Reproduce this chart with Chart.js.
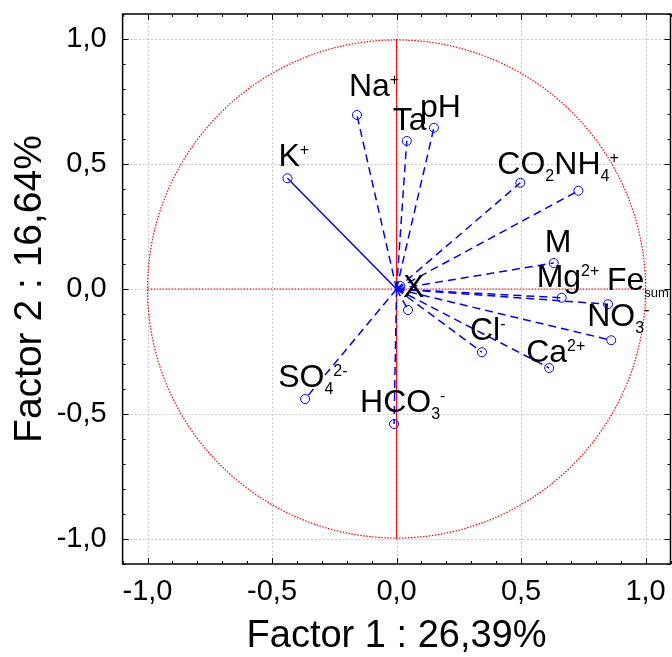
<!DOCTYPE html>
<html>
<head>
<meta charset="utf-8">
<title>Factor loadings</title>
<script src="https://cdn.jsdelivr.net/npm/chart.js"></script>
<style>
  html, body { margin: 0; padding: 0; overflow: hidden; background: #fff; }
  #chart { display: block; }
</style>
</head>
<body>
<canvas id="chart" width="676" height="657"></canvas>
<script>
// variable labels: main text, subscript, superscript
const labelMain = ['Na', 'Ta', 'pH', 'K', 'CO', 'NH', 'M', 'Mg', 'Fe', 'NO', 'Cl', 'Ca', 'X', '', 'SO', 'HCO'];
const labelSub  = ['', '', '', '', '2', '4', '', '', 'sum', '3', '', '', '', '', '4', '3'];
const labelSup  = ['+', '', '', '+', '', '+', '', '2+', '', '-', '-', '2+', '', '', '2-', '-'];

// loadings on factor 1 and factor 2
const factor1 = [-0.159, 0.041, 0.150, -0.438, 0.497, 0.730, 0.631, 0.663, 0.849, 0.862, 0.343, 0.613, 0.046, 0.015, -0.367, -0.010];
const factor2 = [0.696, 0.592, 0.645, 0.443, 0.425, 0.393, 0.104, -0.035, -0.061, -0.205, -0.253, -0.316, -0.084, 0.012, -0.440, -0.540];

// axis tick values
const axisTicks = [-1.0, -0.5, 0.0, 0.5, 1.0];

// label placement relative to the point (pixels)
const labelNudge = [[-8, -19], [-14, -11], [-14, -11], [-9, -12], [-23, -9], [-24, -17], [-9, -11], [-25, -11],
                    [-1, -14], [-24, -14], [-12, -12], [-23, -6], [-5, -13], [0, 0], [-27, -12], [-34, -12]];
const solidLines = ['K'];

const FONT = '"Liberation Sans", Arial, sans-serif';
const BLUE = '#0000ff';

function fmt(v) {
  return v.toFixed(1).replace('.', ',').replace('-0,0', '0,0');
}

function line(ctx, x1, y1, x2, y2) {
  ctx.beginPath();
  ctx.moveTo(x1, y1);
  ctx.lineTo(x2, y2);
  ctx.stroke();
}

const datasets = labelMain.map((name, i) => ({
  label: name + labelSub[i] + labelSup[i],
  data: [{x: 0, y: 0}, {x: factor1[i], y: factor2[i]}],
  showLine: true,
  borderColor: BLUE,
  borderWidth: 1.5,
  borderDash: solidLines.includes(name) ? [] : [8, 5],
  pointRadius: ctx => ctx.dataIndex === 0 ? 0 : 4.5,
  pointBorderColor: BLUE,
  pointBorderWidth: 1,
  pointBackgroundColor: 'rgba(0,0,0,0)'
}));

const decorations = {
  id: 'decorations',
  beforeDatasetsDraw(chart) {
    const {ctx, chartArea: a, scales: {x, y}} = chart;
    ctx.save();
    // dotted grid
    ctx.strokeStyle = '#c8c8c8';
    ctx.lineWidth = 1;
    ctx.setLineDash([2, 2]);
    axisTicks.forEach(v => {
      const px = Math.round(x.getPixelForValue(v)) + 0.5;
      const py = Math.round(y.getPixelForValue(v)) + 0.5;
      line(ctx, px, a.top, px, a.bottom);
      line(ctx, a.left, py, a.right, py);
    });
    // unit circle and axes through the origin
    const cx = x.getPixelForValue(0), cy = y.getPixelForValue(0);
    const r = x.getPixelForValue(1) - cx;
    ctx.strokeStyle = '#ff0000';
    ctx.lineWidth = 1.2;
    ctx.setLineDash([1.5, 1.5]);
    ctx.beginPath();
    ctx.arc(cx, cy, r, 0, Math.PI * 2);
    ctx.stroke();
    line(ctx, x.getPixelForValue(-1), cy, x.getPixelForValue(1), cy);
    ctx.setLineDash([]);
    ctx.lineWidth = 1;
    line(ctx, cx, y.getPixelForValue(1), cx, y.getPixelForValue(-1));
    ctx.restore();
  },
  afterDatasetsDraw(chart) {
    const {ctx, scales: {x, y}} = chart;
    ctx.save();
    ctx.fillStyle = '#000';
    ctx.textAlign = 'left';
    ctx.textBaseline = 'alphabetic';
    labelMain.forEach((name, i) => {
      if (!name) return;
      let lx = x.getPixelForValue(factor1[i]) + labelNudge[i][0];
      const ly = y.getPixelForValue(factor2[i]) + labelNudge[i][1];
      ctx.font = '32px ' + FONT;
      ctx.fillText(name, lx, ly);
      lx += ctx.measureText(name).width;
      if (labelSub[i]) {
        ctx.font = (labelSub[i].length > 1 ? 13 : 16) + 'px ' + FONT;
        ctx.fillText(labelSub[i], lx, ly + 7);
        lx += ctx.measureText(labelSub[i]).width;
      }
      if (labelSup[i]) {
        ctx.font = '16px ' + FONT;
        ctx.fillText(labelSup[i], lx, ly - 11);
      }
    });
    ctx.restore();
  },
  afterDraw(chart) {
    const {ctx, chartArea: a, scales: {x, y}} = chart;
    ctx.save();
    ctx.strokeStyle = '#000';
    ctx.lineWidth = 1.5;
    ctx.strokeRect(a.left, a.top, a.right - a.left, a.bottom - a.top);
    // inward tick marks on all four sides
    ctx.lineWidth = 1;
    for (let k = -11; k <= 11; k++) {
      const v = k / 10;
      const len = k % 5 === 0 ? 6 : 3;
      const px = Math.round(x.getPixelForValue(v)) + 0.5;
      const py = Math.round(y.getPixelForValue(v)) + 0.5;
      line(ctx, px, a.bottom, px, a.bottom - len);
      line(ctx, px, a.top, px, a.top + len);
      line(ctx, a.left, py, a.left + len, py);
      line(ctx, a.right, py, a.right - len, py);
    }
    ctx.restore();
  }
};

new Chart(document.getElementById('chart'), {
  type: 'scatter',
  data: {datasets},
  options: {
    responsive: false,
    animation: false,
    layout: {padding: {top: 14, right: 2.5, left: 0, bottom: 0}},
    plugins: {legend: {display: false}, tooltip: {enabled: false}},
    scales: {
      x: {
        type: 'linear',
        min: -1.1,
        max: 1.1,
        afterBuildTicks: s => { s.ticks = axisTicks.map(v => ({value: v})); },
        afterFit: s => { s.height = 93; s.paddingLeft = 0; s.paddingRight = 0; },
        grid: {display: false},
        border: {display: false},
        ticks: {
          color: '#000',
          font: {family: FONT, size: 29},
          padding: 3,
          maxRotation: 0,
          callback: v => fmt(v)
        },
        title: {
          display: true,
          text: 'Factor 1 : 26,39%',
          color: '#000',
          font: {family: FONT, size: 38, lineHeight: 1},
          padding: {top: 0, bottom: 1}
        }
      },
      y: {
        type: 'linear',
        min: -1.1,
        max: 1.1,
        afterBuildTicks: s => { s.ticks = axisTicks.map(v => ({value: v})); },
        afterFit: s => { s.width = 122.6; s.paddingTop = 0; s.paddingBottom = 0; },
        grid: {display: false},
        border: {display: false},
        ticks: {
          color: '#000',
          font: {family: FONT, size: 29},
          padding: 8,
          callback: v => fmt(v)
        },
        title: {
          display: true,
          text: 'Factor 2 : 16,64%',
          color: '#000',
          font: {family: FONT, size: 39, lineHeight: 1},
          padding: {top: 11, bottom: 0}
        }
      }
    }
  },
  plugins: [decorations]
});
</script>
</body>
</html>
